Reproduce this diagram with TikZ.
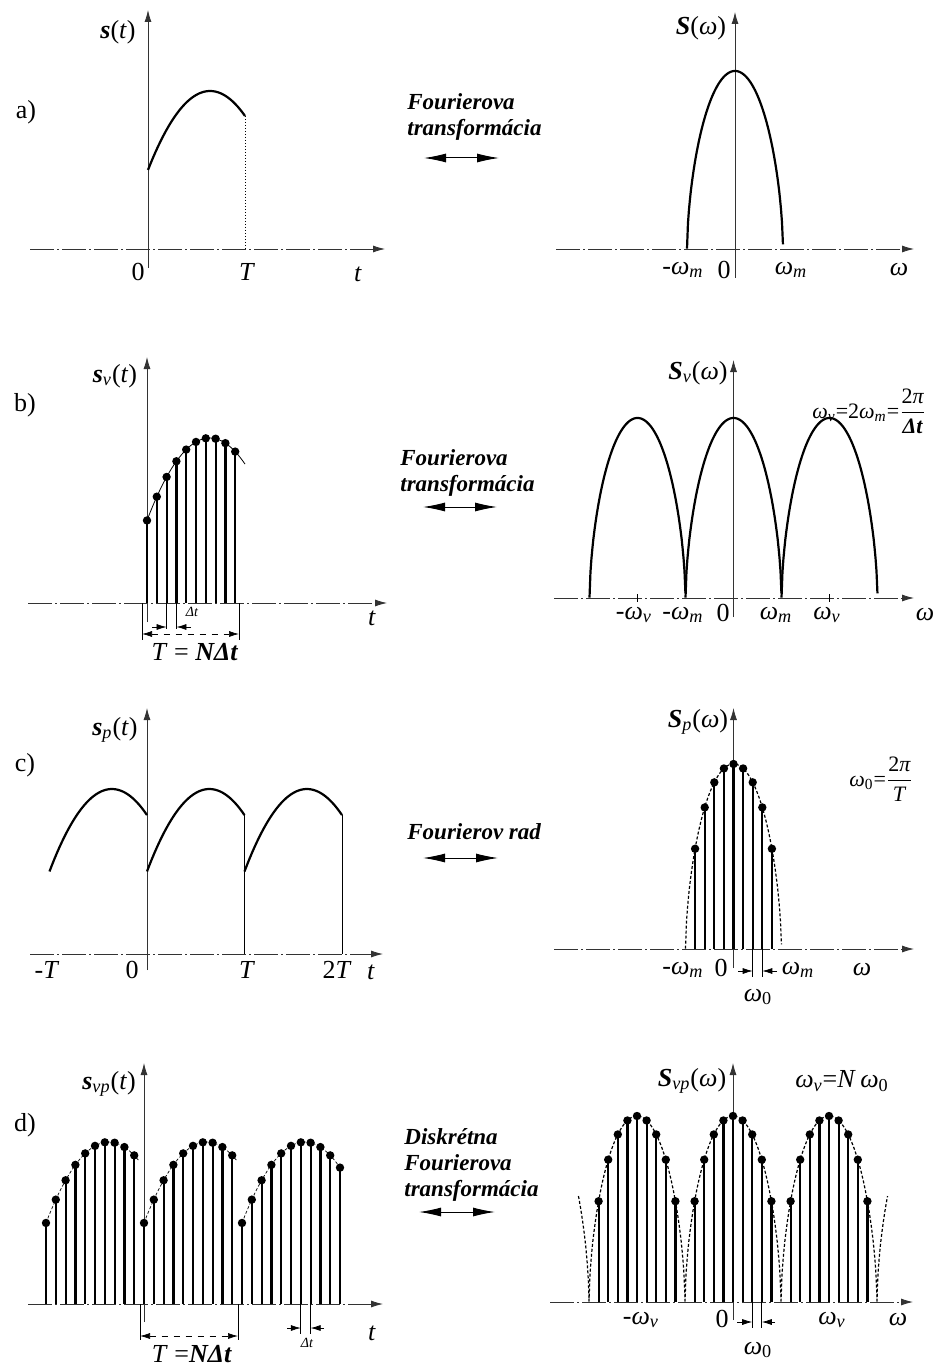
\documentclass[tikz,border=0pt]{standalone}
\usepackage{fontspec}
\setmainfont{Liberation Serif}
\usetikzlibrary{arrows.meta}

\newcommand{\om}{\textit{ω}}
\newcommand{\bi}[1]{\textbf{\textit{#1}}}
\newcommand{\sub}[1]{\textsubscript{\textit{#1}}}

\begin{document}
\begin{tikzpicture}[x=0.5pt, y=-0.5pt,
  declare function={sig(\x)=1-1.22*(\x-0.64)*(\x-0.64);
                    lobe(\x)=max(0.00001,1-(\x)*(\x))^0.6;},
  vax/.style={black!80, line width=0.4pt, -{Latex[length=6pt,width=3.5pt]}},
  hax/.style={vax, dash pattern=on 12pt off 1.5pt on 1pt off 1.5pt},
  sigline/.style={line width=1.1pt},
  stem/.style={line width=1.1pt},
  env/.style={line width=0.6pt, dash pattern=on 1.5pt off 1pt},
  dim/.style={line width=0.35pt},
  dimar/.style={dim, -{Latex[length=5pt,width=3pt]}},
  xfer/.style={line width=0.5pt,
    {Latex[length=11pt,width=4.5pt]}-{Latex[length=11pt,width=4.5pt]}},
  lbl/.style={font=\fontsize{13}{15}\selectfont, inner sep=0pt},
  small/.style={font=\fontsize{7}{8}\selectfont\itshape, inner sep=0pt},
  frm/.style={font=\fontsize{11}{13}\selectfont, inner sep=0pt, anchor=west},
  ftext/.style={font=\fontsize{11.5}{13}\selectfont\bfseries\itshape,
    align=left, inner sep=0pt, anchor=north west}]

\fill[white] (0,0) rectangle (934,1369);
\useasboundingbox (0,0) rectangle (934,1369);

% ---------------- a) ----------------
\draw[vax] (148,268) -- (148,10);
\draw[hax] (30,249) -- (385,249);
\draw[sigline] plot[domain=0:1, samples=41] ({148+97*\x},{249-158*sig(\x)});
\draw[densely dotted, line width=0.5pt] (245,{249-158*sig(1)}) -- (245,249);
\node[lbl] (sa) at (118,32) {\bi{s}(\textit{t})};
\node[lbl] (pa) at (26,112) {a)};
\node[lbl] (a0) at (138,272) {0};
\node[lbl] (aT) at (247,272) {\textit{T}};
\node[lbl] (at) at (358,274) {\textit{t}};

\draw[vax] (735,278) -- (735,12);
\draw[hax] (556,249) -- (914,249);
\draw[sigline] plot[domain=-1:1, samples=101] ({735+48*\x},{249-178*lobe(\x)});
\node[lbl] (Sa) at (701,28) {\bi{S}(\om)};
\node[lbl] (awm1) at (683,270) {-\om\sub{m}};
\node[lbl] (aw0) at (724,270) {0};
\node[lbl] (awm2) at (791,270) {\om\sub{m}};
\node[lbl] (aw) at (899,270) {\om};

\node[ftext] (fa) at (407,93) {Fourierova\\transformácia};
\coordinate (fa1) at (424,158);
\coordinate (fa2) at (499,158);
\draw[xfer] (fa1) -- (fa2);

% ---------------- b) ----------------
\draw[vax] (147,622) -- (147,357);
\draw[hax] (28,603) -- (387,603);
\draw[line width=0.4pt] plot[domain=0:1, samples=41] ({147+98*\x},{603-165*sig(\x)});
\foreach \i in {0,...,9}{
  \pgfmathsetmacro\xx{147+9.8*\i}
  \pgfmathsetmacro\yy{603-165*sig(\i/10)}
  \draw[stem] (\xx,603) -- (\xx,\yy);
  \fill (\xx,\yy) circle[radius=2.1pt];
}
\draw[dim] (142,603) -- (142,640);
\draw[dim] (166.6,603) -- (166.6,629);
\draw[dim] (176.4,603) -- (176.4,629);
\draw[dim] (239,603) -- (239,640);
\draw[dimar] (152,627) -- (166.6,627);
\draw[dimar] (191,627) -- (176.4,627);
\draw[dim, dashed, {Latex[length=5pt,width=3pt]}-{Latex[length=5pt,width=3pt]}]
  (142,634) -- (239,634);
\node[small] (bdt) at (192,612) {Δt};
\node[lbl] (bTN) at (195,652) {\textit{T} = \bi{NΔt}};
\node[lbl] (sb) at (115,376) {\bi{s}\sub{v}(\textit{t})};
\node[lbl] (pb) at (25,405) {b)};
\node[lbl] (bt) at (372,618) {\textit{t}};

\draw[vax] (733.5,617) -- (733.5,360);
\draw[hax] (554,598) -- (914,598);
\foreach \c in {637.5,733.5,829.5}
  \draw[sigline] plot[domain=-1:1, samples=101] ({\c+48*\x},{598-180*lobe(\x)});
\draw[dim] (637.5,594) -- (637.5,602);
\draw[dim] (829.5,594) -- (829.5,602);
\node[lbl] (Sb) at (698,373) {\bi{S}\sub{v}(\om)};
\node[lbl] (bwv1) at (634,615) {-\om\sub{v}};
\node[lbl] (bwm1) at (683,615) {-\om\sub{m}};
\node[lbl] (bw0) at (723,613) {0};
\node[lbl] (bwm2) at (776,615) {\om\sub{m}};
\node[lbl] (bwv2) at (827,615) {\om\sub{v}};
\node[lbl] (bw) at (925,615) {\om};
\node[frm] (fvb) at (812,411)
  {\om\sub{v}=2\om\sub{m}=$\displaystyle\frac{\mbox{2\textit{π}}}{\mbox{\bi{Δt}}}$};

\node[ftext] (fb) at (400,449) {Fourierova\\transformácia};
\coordinate (fb1) at (423,507);
\coordinate (fb2) at (497,507);
\draw[xfer] (fb1) -- (fb2);

% ---------------- c) ----------------
\draw[vax] (147,970) -- (147,708);
\draw[hax] (30,954) -- (383,954);
\foreach \s in {49.5,147,244.5}
  \draw[sigline] plot[domain=0:1, samples=41] ({\s+97.5*\x},{954-165*sig(\x)});
\draw[dim] (244.5,{954-165*sig(1)}) -- (244.5,954);
\draw[dim] (342,{954-165*sig(1)}) -- (342,954);
\node[lbl] (sc) at (115,730) {\bi{s}\sub{p}(\textit{t})};
\node[lbl] (pc) at (25,765) {c)};
\node[lbl] (cmT) at (47,970) {-\textit{T}};
\node[lbl] (c0) at (132,970) {0};
\node[lbl] (cT) at (247,970) {\textit{T}};
\node[lbl] (c2T) at (337,970) {2\textit{T}};
\node[lbl] (ct) at (371,972) {\textit{t}};

\draw[vax] (733.5,968) -- (733.5,708);
\draw[hax] (554,949) -- (914,949);
\draw[env] plot[domain=-1:1, samples=101] ({733.5+48*\x},{949-185*lobe(\x)});
\foreach \j in {-4,...,4}{
  \pgfmathsetmacro\xx{733.5+9.6*\j}
  \pgfmathsetmacro\yy{949-185*lobe(\j/5)}
  \draw[stem] (\xx,949) -- (\xx,\yy);
  \fill (\xx,\yy) circle[radius=2.1pt];
}
\draw[dim] (752.7,949) -- (752.7,977);
\draw[dim] (762.3,949) -- (762.3,977);
\draw[dimar] (738,971) -- (752.7,971);
\draw[dimar] (777,971) -- (762.3,971);
\node[lbl] (Sc) at (698,722) {\bi{S}\sub{p}(\om)};
\node[lbl] (cwm1) at (683,970) {-\om\sub{m}};
\node[lbl] (cw0) at (721,968) {0};
\node[lbl] (cwm2) at (798,970) {\om\sub{m}};
\node[lbl] (cw) at (862,970) {\om};
\node[lbl] (cw00) at (758,997) {\om\textsubscript{0}};
\node[frm] (fvc) at (849,779)
  {\om\textsubscript{0}=$\displaystyle\frac{\mbox{2\textit{π}}}{\mbox{\textit{T}}}$};

\node[ftext] (fc) at (407,823) {Fourierov rad};
\coordinate (fc1) at (423,858);
\coordinate (fc2) at (498,858);
\draw[xfer] (fc1) -- (fc2);

% ---------------- d) ----------------
\draw[vax] (144,1322) -- (144,1063);
\draw[hax] (28,1304) -- (383,1304);
\foreach \s/\e in {46/0.95,144/0.95,242/1}
  \draw[env, line width=0.35pt] plot[domain=0:\e, samples=31] ({\s+98*\x},{1304-162*sig(\x)});
\foreach \n in {0,...,30}{
  \pgfmathsetmacro\xx{46+9.8*\n}
  \pgfmathsetmacro\uu{\n<30 ? mod(\n,10)/10 : 1}
  \pgfmathsetmacro\yy{1304-162*sig(\uu)}
  \draw[stem] (\xx,1304) -- (\xx,\yy);
  \fill (\xx,\yy) circle[radius=2.1pt];
}
\draw[dim] (140,1304) -- (140,1340);
\draw[dim] (238,1304) -- (238,1340);
\draw[dim, dashed, {Latex[length=5pt,width=3pt]}-{Latex[length=5pt,width=3pt]}]
  (140,1336) -- (238,1336);
\draw[dim] (300.8,1304) -- (300.8,1334);
\draw[dim] (310.6,1304) -- (310.6,1334);
\draw[dimar] (287,1328) -- (300.8,1328);
\draw[dimar] (324,1328) -- (310.6,1328);
\node[small] (ddt) at (307,1343) {Δt};
\node[lbl] (dTN) at (192,1354) {\textit{T} =\bi{NΔt}};
\node[lbl] (sd) at (109,1084) {\bi{s}\sub{vp}(\textit{t})};
\node[lbl] (pd) at (25,1125) {d)};
\node[lbl] (dt) at (372,1333) {\textit{t}};

\draw[vax] (733,1320) -- (733,1063);
\draw[hax] (550,1302) -- (913,1302);
\foreach \c in {637,733,829}
  \draw[env] plot[domain=-1:1, samples=101] ({\c+48*\x},{1302-186*lobe(\x)});
\draw[env] plot[domain=0.78:1, samples=21] ({541+48*\x},{1302-186*lobe(\x)});
\draw[env] plot[domain=-1:-0.78, samples=21] ({925+48*\x},{1302-186*lobe(\x)});
\foreach \j in {-14,...,14}{
  \pgfmathsetmacro\vv{\j-10*round(\j/10)}
  \pgfmathtruncatemacro\aa{abs(\vv)}
  \ifnum\aa<5
    \pgfmathsetmacro\xx{733+9.6*\j}
    \pgfmathsetmacro\yy{1302-186*lobe(\vv/5)}
    \draw[stem] (\xx,1302) -- (\xx,\yy);
    \fill (\xx,\yy) circle[radius=2.1pt];
  \fi
}
\draw[dim] (752.2,1302) -- (752.2,1328);
\draw[dim] (761.8,1302) -- (761.8,1328);
\draw[dimar] (737,1322) -- (752.2,1322);
\draw[dimar] (775,1322) -- (761.8,1322);
\node[lbl] (Sd) at (692,1081) {\bi{S}\sub{vp}(\om)};
\node[lbl] (fvd) at (842,1081) {\om\sub{v}=\textit{N}\,\om\textsubscript{0}};
\node[lbl] (dwv1) at (641,1320) {-\om\sub{v}};
\node[lbl] (dw0) at (722,1319) {0};
\node[lbl] (dwv2) at (832,1320) {\om\sub{v}};
\node[lbl] (dw) at (898,1320) {\om};
\node[lbl] (dw00) at (758,1350) {\om\textsubscript{0}};

\node[ftext] (fd) at (404,1128) {Diskrétna\\Fourierova\\transformácia};
\coordinate (fd1) at (419,1212);
\coordinate (fd2) at (495,1212);
\draw[xfer] (fd1) -- (fd2);
\end{tikzpicture}
\end{document}
